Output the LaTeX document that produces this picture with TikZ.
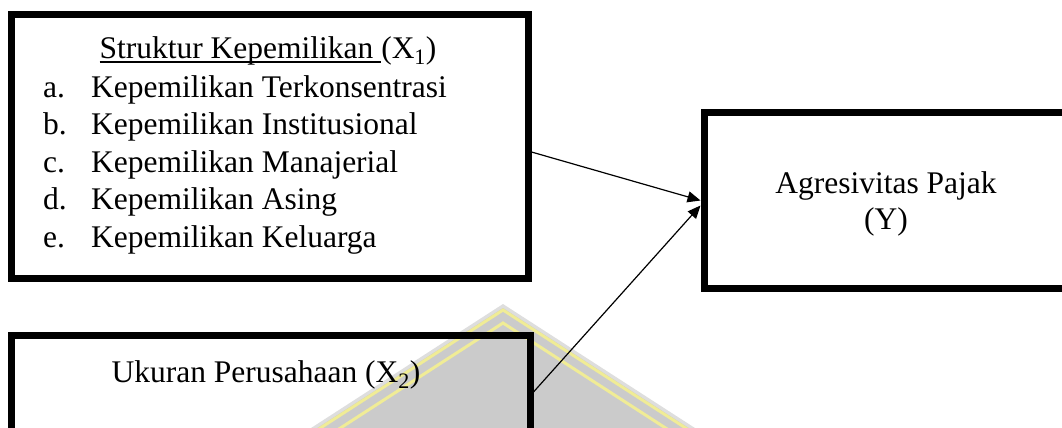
\documentclass[tikz,border=0pt]{standalone}
\usepackage{fontspec}
\setmainfont{Liberation Serif}
\usetikzlibrary{arrows.meta}
\newcommand\myul[1]{\setbox0\hbox{#1}\rlap{\rule[-3.5pt]{\wd0}{1.4pt}}\box0}
\definecolor{wmgray}{RGB}{203,203,203}
\definecolor{wmrim}{RGB}{222,222,222}
\definecolor{wmyellow}{RGB}{240,236,150}
\begin{document}
\begin{tikzpicture}[x=1pt,y=-1pt,
  box/.style={draw=black,line width=7pt,inner sep=0pt,outer sep=3.5pt,rectangle},
  txt/.style={inner sep=0pt,font=\fontsize{31.5pt}{37.5pt}\selectfont},
  arr/.style={draw=black,line width=1.2pt,-{Triangle[length=13pt,width=11pt]}}]
\useasboundingbox (0,0) rectangle (1062,428);
\clip (0,0) rectangle (1062,428);
% watermark
\fill[wmrim] (503-300,304+193.8) -- (503,304) -- (503+300,304+193.8) -- cycle;
\fill[wmgray] (503-300,308+193.8) -- (503,308) -- (503+300,308+193.8) -- cycle;
\draw[wmyellow,line width=3pt] (503-300,310+193.8) -- (503,310) -- (503+300,310+193.8);
\draw[wmyellow,line width=3pt] (503-300,323+193.8) -- (503,323) -- (503+300,323+193.8);
% boxes
\node[box,minimum width=516.5pt,minimum height=263.5pt] (x1) at (269.75,146.75) {};
\node[box,minimum width=364pt,minimum height=176pt] (y) at (886,200.5) {};
\node[box,minimum width=518.5pt,minimum height=134.5pt] (x2) at (270.75,402.75) {};
% texts
\node[txt,anchor=base] (t1) at (268,59) {\myul{Struktur Kepemilikan }(X\textsubscript{1})};
\node[txt,anchor=base west] (ia) at (43,97) {\makebox[48pt][l]{a.}Kepemilikan Terkonsentrasi};
\node[txt,anchor=base west] (ib) at (43,134.5) {\makebox[48pt][l]{b.}Kepemilikan Institusional};
\node[txt,anchor=base west] (ic) at (43,172) {\makebox[48pt][l]{c.}Kepemilikan Manajerial};
\node[txt,anchor=base west] (id) at (43,209.5) {\makebox[48pt][l]{d.}Kepemilikan Asing};
\node[txt,anchor=base west] (ie) at (43,247) {\makebox[48pt][l]{e.}Kepemilikan Keluarga};
\node[txt,anchor=base] (ty1) at (886,193) {Agresivitas Pajak};
\node[txt,anchor=base] (ty2) at (886,229) {(Y)};
\node[txt,anchor=base] (t2) at (266,382) {Ukuran Perusahaan (X\textsubscript{2})};
% connectors
\draw[arr] ([yshift=-5.25pt]x1.east) -- (y.west);
\draw[arr] ([yshift=10.75pt]x2.east) -- ([yshift=-5pt]y.west);
\end{tikzpicture}
\end{document}
